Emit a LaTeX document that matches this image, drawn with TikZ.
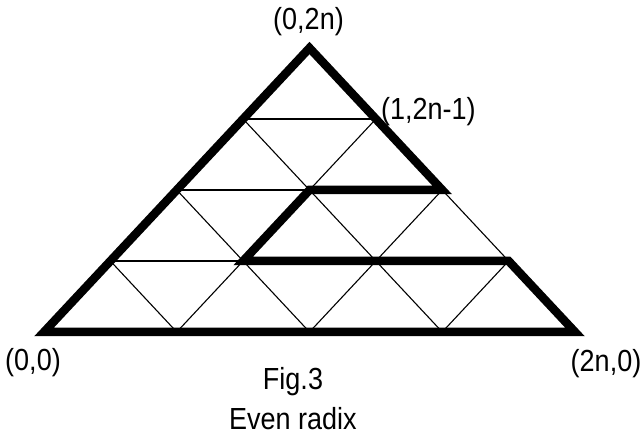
\documentclass[tikz,border=0pt]{standalone}
\usepackage{fontspec}
\setmainfont{Liberation Sans}

\begin{document}
\begin{tikzpicture}[x=1pt,y=1pt,
    gridline/.style={line width=1.1pt},
    border/.style={line width=8.5pt,line join=miter},
    lbl/.style={inner sep=0pt,anchor=base,yscale=1.13,transform shape,
      font=\fontsize{27}{32}\selectfont}]
  \useasboundingbox (0,0) rectangle (644,433);

  % lattice of the triangle, side 4
  \begin{scope}[x={(132.75pt,0pt)},y={(66.375pt,71pt)},shift={(44pt,101pt)}]
    \coordinate (p00) at (0,0);
    \coordinate (p40) at (4,0);
    \coordinate (p04) at (0,4);
    \coordinate (p13) at (1,3);
    \coordinate (p22) at (2,2);
    \coordinate (p12) at (1,2);
    \coordinate (p11) at (1,1);
    \coordinate (p31) at (3,1);

    \foreach \k in {1,2,3} {
      \draw[gridline] (0,\k) -- ({4-\k},\k);
      \draw[gridline] (\k,0) -- (\k,{4-\k});
      \draw[gridline] (\k,0) -- (0,\k);
    }
    \draw[gridline] (p00) -- (p40) -- (p04) -- cycle;

    \draw[border] (p00) -- (p04) -- (p22) -- (p12) -- (p11) -- (p31) -- (p40) -- cycle;
  \end{scope}

  \node[lbl] (apexlbl) at (308.5,403) {(0,2n)};
  \node[lbl,anchor=base west] (steplbl) at (381,313) {(1,2n-1)};
  \node[lbl] (originlbl) at (33,62) {(0,0)};
  \node[lbl] (endlbl) at (606,61) {(2n,0)};
  \node[lbl] (figlbl) at (293,43) {Fig.3};
  \node[lbl] (radixlbl) at (293,4) {Even radix};
\end{tikzpicture}
\end{document}
